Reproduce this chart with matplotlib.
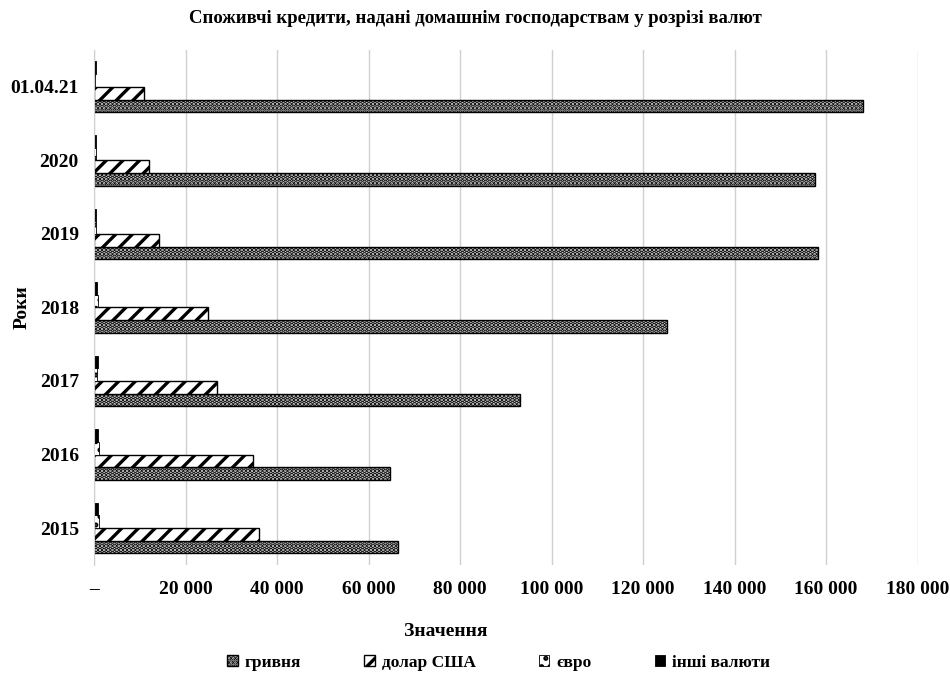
import matplotlib.pyplot as plt
import numpy as np

plt.rcParams['font.family'] = ['Liberation Serif', 'DejaVu Serif']
plt.rcParams['font.weight'] = 'bold'
plt.rcParams['hatch.linewidth'] = 2.4

years = ['2015', '2016', '2017', '2018', '2019', '2020', '01.04.21']
uah = [66400, 64700, 93100, 125200, 158300, 157600, 168000]
usd = [36100, 34800, 26900, 24850, 14200, 11900, 10900]
eur = [1150, 1100, 720, 800, 500, 480, 200]
other = [870, 870, 870, 650, 500, 450, 530]

fig = plt.figure(figsize=(9.5, 6.78), dpi=100)
ax = fig.add_axes([0.099, 0.167, 0.867, 0.759])

y = np.arange(len(years))
h = 0.173

ax.barh(y - 1.5 * h, uah, h, label='гривня', color='#d4d4d4',
        edgecolor='black', hatch='....', linewidth=1)
ax.barh(y - 0.5 * h, usd, h, label='долар США', color='white',
        edgecolor='black', hatch='//', linewidth=1)
ax.barh(y + 0.5 * h, eur, h, label='євро', color='white',
        edgecolor='black', hatch='..', linewidth=0.6)
ax.barh(y + 1.5 * h, other, h, label='інші валюти', color='black',
        edgecolor='black', linewidth=0.6)

ax.set_xlim(0, 180000)
ax.set_ylim(-0.5, len(years) - 0.5)
ticks = np.arange(0, 180001, 20000)
ax.set_xticks(ticks)
ax.set_xticklabels(['–'] + ['{:,}'.format(t).replace(',', ' ') for t in ticks[1:]],
                   fontsize=14)
ax.set_yticks(y)
ax.set_yticklabels(years, fontsize=14)
ax.tick_params(axis='x', length=0, pad=12)
ax.tick_params(axis='y', length=0, pad=11)

ax.grid(axis='x', color='#d0d0d0', linewidth=1)
ax.set_axisbelow(True)
for s in ['top', 'right', 'bottom']:
    ax.spines[s].set_visible(False)
ax.spines['left'].set_color('#d0d0d0')

ax.set_xlabel('Значення', fontsize=14, fontweight='bold')
ax.xaxis.set_label_coords(0.427, -0.113)
ax.set_ylabel('Роки', fontsize=14, fontweight='bold')
ax.yaxis.set_label_coords(-0.077, 0.5)
fig.suptitle('Споживчі кредити, надані домашнім господарствам у розрізі валют',
             fontsize=13.5, fontweight='bold', y=0.985)

fig.legend(loc='lower center', bbox_to_anchor=(0.525, -0.012), ncol=4, frameon=False,
           fontsize=12.5, handlelength=0.6, handleheight=0.6, columnspacing=3.65,
           handletextpad=0.4)

fig.savefig('out.png', dpi=100)
